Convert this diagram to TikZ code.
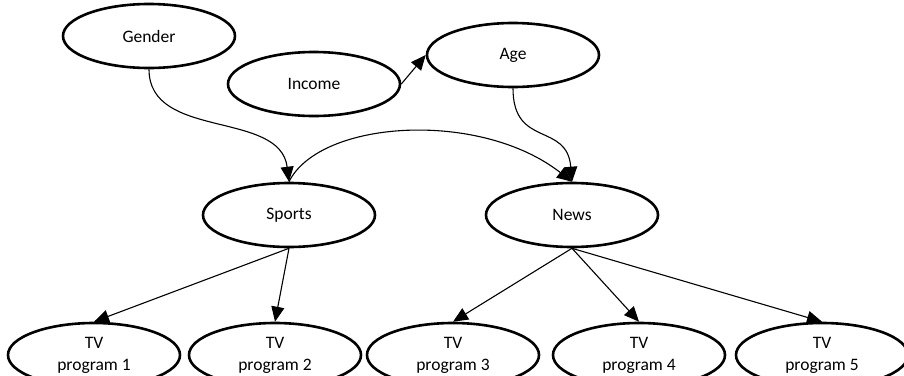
\documentclass[tikz,border=0pt]{standalone}
\usepackage{fontspec}
\setmainfont{Carlito}
\usetikzlibrary{shapes.geometric,arrows.meta}
\begin{document}
\begin{tikzpicture}[x=1pt, y=-1pt, >={Triangle[length=15pt,width=13pt]},
  var/.style={draw, ellipse, line width=2.6pt, minimum width=172pt, minimum height=64pt,
    inner sep=0pt, align=center, font=\fontsize{17.5}{22}\selectfont},
  link/.style={->, line width=1.1pt}]
  \useasboundingbox (0,0) rectangle (904,375);

  % upper layer
  \node[var] (gender) at (149,36) {Gender};
  \node[var] (income) at (314,84) {Income};
  \node[var] (age) at (513,55) {Age};

  % middle layer
  \node[var] (sports) at (289,215) {Sports};
  \node[var] (news) at (572,215) {News};

  % programs
  \node[var] (tv1) at (94,355) {TV\\program 1};
  \node[var] (tv2) at (275,355) {TV\\program 2};
  \node[var] (tv3) at (453,355) {TV\\program 3};
  \node[var] (tv4) at (639,355) {TV\\program 4};
  \node[var] (tv5) at (822,355) {TV\\program 5};

  \draw[link] (income.east) -- (age.west);
  \draw[link] (gender.south) .. controls +(0,71) and +(-9,-72) .. (sports.north);
  \draw[link] (age.south) .. controls +(0,60) and +(-5,-60) .. (news.north);
  \draw[link] (sports.north) .. controls +(31,-62) and +(-92,-72) .. (news.north);

  \draw[link] (sports.south) -- (tv1.north);
  \draw[link] (sports.south) -- (tv2.north);
  \draw[link] (news.south) -- (tv3.north);
  \draw[link] (news.south) -- (tv4.north);
  \draw[link] (news.south) -- (tv5.north);
\end{tikzpicture}
\end{document}
